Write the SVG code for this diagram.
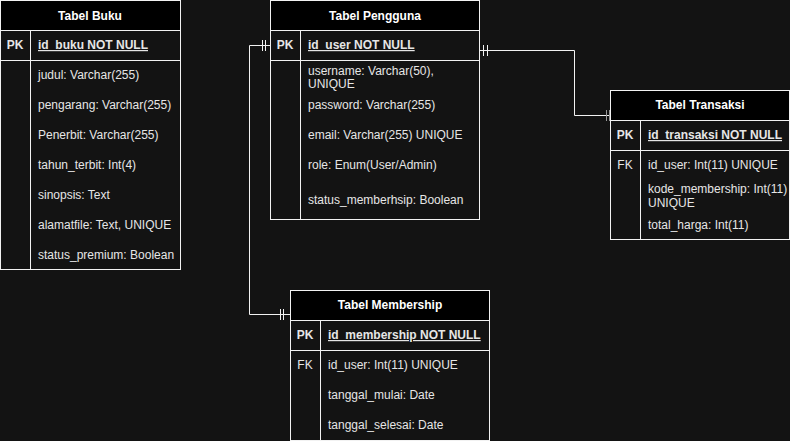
<svg xmlns="http://www.w3.org/2000/svg" width="790" height="441" viewBox="0 0 790 441">
<style>
.bg{fill:#131313}
.box{fill:#131313;stroke:#f2f2f2;stroke-width:1}
.hdr{fill:#000000;stroke:#f2f2f2;stroke-width:1}
.sep{stroke:#f2f2f2;stroke-width:1;fill:none}
.t{font-family:"Liberation Sans",Arial,sans-serif;font-size:12px;fill:#e6e6e6}
.h{font-family:"Liberation Sans",Arial,sans-serif;font-size:12px;fill:#ffffff;font-weight:bold;text-anchor:middle}
.k{font-family:"Liberation Sans",Arial,sans-serif;font-size:12px;fill:#e6e6e6;font-weight:bold;text-anchor:middle}
.u{font-weight:bold;text-decoration:underline}
.c{stroke:#f2f2f2;stroke-width:1;fill:none}
.bar{stroke:#f2f2f2;stroke-width:1}
</style>
<rect class="bg" x="0" y="0" width="790" height="441"/>

<g id="connectors">
  <path class="c" d="M270.5,45.5 H249.5 V314.5 H290"/>
  <line class="bar" x1="262.5" y1="40" x2="262.5" y2="51"/>
  <line class="bar" x1="265.5" y1="40" x2="265.5" y2="51"/>
  <line class="bar" x1="280.5" y1="309" x2="280.5" y2="320"/>
  <line class="bar" x1="283.5" y1="309" x2="283.5" y2="320"/>
  <path class="c" d="M480,50.5 H574.5 V115.5 H610"/>
  <line class="bar" x1="483.5" y1="45" x2="483.5" y2="56"/>
  <line class="bar" x1="487.5" y1="45" x2="487.5" y2="56"/>
  <line class="bar" x1="606.5" y1="110" x2="606.5" y2="121" style="stroke:#999"/>
  <line class="bar" x1="609.5" y1="110" x2="609.5" y2="121" style="stroke:#999"/>
</g>

<g id="tabel-buku">
  <rect class="box" x="0.5" y="0.5" width="180" height="269"/>
  <rect class="hdr" x="0.5" y="0.5" width="180" height="30"/>
  <line class="sep" x1="0.5" y1="60.5" x2="180.5" y2="60.5"/>
  <line class="sep" x1="30.5" y1="30.5" x2="30.5" y2="269.5"/>
  <text class="h" x="90" y="19.5">Tabel Buku</text>
  <text class="k" x="15" y="49">PK</text>
  <text class="t u" x="38" y="49">id_buku NOT NULL</text>
  <text class="t" x="38" y="79">judul: Varchar(255)</text>
  <text class="t" x="38" y="109">pengarang: Varchar(255)</text>
  <text class="t" x="38" y="139">Penerbit: Varchar(255)</text>
  <text class="t" x="38" y="169">tahun_terbit: Int(4)</text>
  <text class="t" x="38" y="199">sinopsis: Text</text>
  <text class="t" x="38" y="229">alamatfile: Text, UNIQUE</text>
  <text class="t" x="38" y="259">status_premium: Boolean</text>
</g>

<g id="tabel-pengguna">
  <rect class="box" x="270.5" y="0.5" width="209" height="219"/>
  <rect class="hdr" x="270.5" y="0.5" width="209" height="30"/>
  <line class="sep" x1="270.5" y1="60.5" x2="479.5" y2="60.5"/>
  <line class="sep" x1="300.5" y1="30.5" x2="300.5" y2="219.5"/>
  <text class="h" x="375" y="19.5">Tabel Pengguna</text>
  <text class="k" x="285" y="49">PK</text>
  <text class="t u" x="308" y="49">id_user NOT NULL</text>
  <text class="t" x="308" y="75">username: Varchar(50),</text>
  <text class="t" x="308" y="88">UNIQUE</text>
  <text class="t" x="308" y="108.5">password: Varchar(255)</text>
  <text class="t" x="308" y="139">email: Varchar(255) UNIQUE</text>
  <text class="t" x="308" y="169">role: Enum(User/Admin)</text>
  <text class="t" x="308" y="204">status_memberhsip: Boolean</text>
</g>

<g id="tabel-transaksi">
  <rect class="box" x="610.5" y="90.5" width="179" height="149"/>
  <rect class="hdr" x="610.5" y="90.5" width="179" height="30"/>
  <line class="sep" x1="610.5" y1="150.5" x2="789.5" y2="150.5"/>
  <line class="sep" x1="640.5" y1="120.5" x2="640.5" y2="239.5"/>
  <text class="h" x="700" y="109">Tabel Transaksi</text>
  <text class="k" x="625" y="139">PK</text>
  <text class="t u" x="648" y="139">id_transaksi NOT NULL</text>
  <text class="k" x="625" y="169" style="font-weight:normal">FK</text>
  <text class="t" x="648" y="169">id_user: Int(11) UNIQUE</text>
  <text class="t" x="648" y="193">kode_membership: Int(11)</text>
  <text class="t" x="648" y="207">UNIQUE</text>
  <text class="t" x="648" y="229">total_harga: Int(11)</text>
</g>

<g id="tabel-membership">
  <rect class="box" x="290.5" y="290.5" width="199" height="150"/>
  <rect class="hdr" x="290.5" y="290.5" width="199" height="30"/>
  <line class="sep" x1="290.5" y1="350.5" x2="489.5" y2="350.5"/>
  <line class="sep" x1="320.5" y1="320.5" x2="320.5" y2="441"/>
  <text class="h" x="390" y="309">Tabel Membership</text>
  <text class="k" x="305" y="339">PK</text>
  <text class="t u" x="328" y="339">id_membership NOT NULL</text>
  <text class="k" x="305" y="369" style="font-weight:normal">FK</text>
  <text class="t" x="328" y="369">id_user: Int(11) UNIQUE</text>
  <text class="t" x="328" y="399">tanggal_mulai: Date</text>
  <text class="t" x="328" y="429">tanggal_selesai: Date</text>
</g>
</svg>
